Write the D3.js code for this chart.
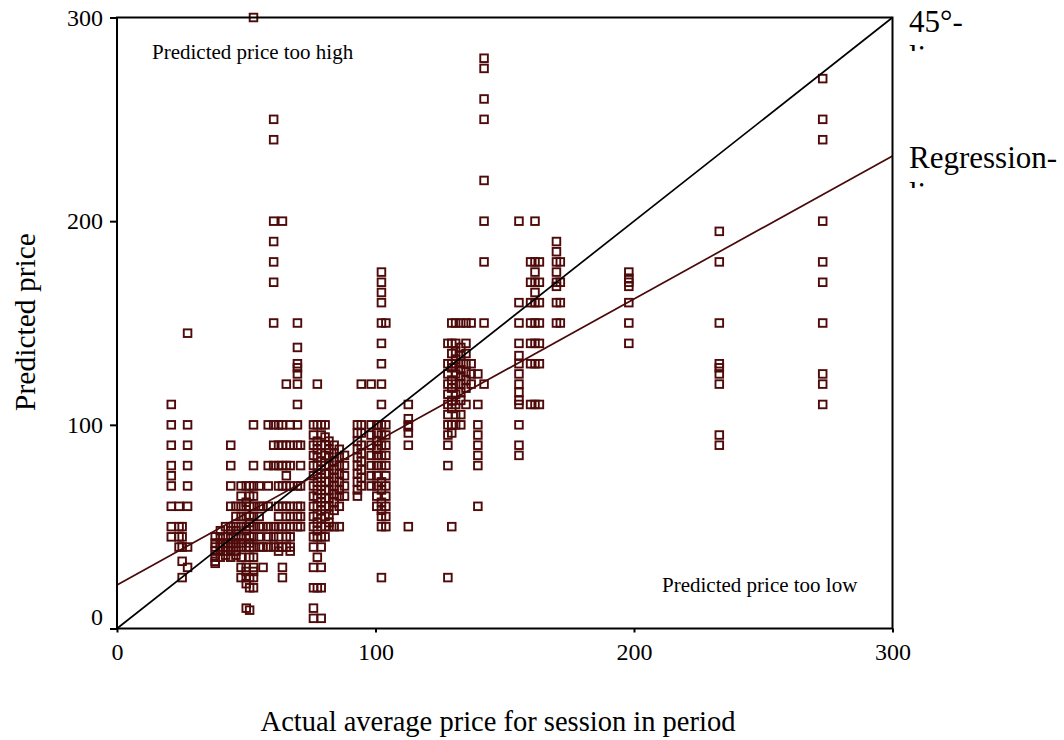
<!DOCTYPE html>
<html>
<head>
<meta charset="utf-8">
<script src="https://d3js.org/d3.v7.min.js"></script>
<style>
  body { margin: 0; background: white; }
  text { font-family: "Liberation Serif", "Times New Roman", serif; fill: black; }
  rect.pt { fill: none; stroke: #4f0a0a; stroke-width: 1.9; }
</style>
</head>
<body>
<svg width="1064" height="740"></svg>
<script>

// actual average price of each session/period (x) and the predictions made at it (y)
var actualPrice = [21, 24, 25.2, 27.3, 38, 40, 42, 44, 46, 48, 50, 51.3, 52.8, 55, 56.5,
  58.5, 60.6, 62.5, 64, 65.5, 67, 69.8, 71, 76, 77.5, 79, 80.5, 82, 84, 86, 88,
  93, 94.5, 98.3, 100.5, 102.3, 104, 112.7, 128, 129.5, 131, 133, 135, 137, 139.6, 142,
  155.5, 160, 161.7, 163.4, 170, 171.5, 198, 233, 273];

var predictedPrice = [
  [110, 100, 90, 80, 75, 70, 60, 50, 45],
  [60, 50, 45, 40],
  [50, 45, 40, 33, 25],
  [145, 100, 90, 80, 70, 60, 40, 30],
  [45, 42, 40, 38, 35, 33, 32],
  [48, 45, 42, 40, 38, 35],
  [50, 45, 42, 40, 38, 36],
  [90, 80, 70, 60, 50, 48, 45, 42, 40, 38, 35],
  [60, 55, 50, 48, 45, 42, 40, 38, 36],
  [70, 65, 60, 55, 50, 45, 42, 40, 35, 30, 25],
  [70, 62, 60, 55, 50, 48, 45, 40, 30, 28, 25, 22, 10],
  [70, 65, 60, 55, 52, 50, 45, 42, 40, 35, 25, 20, 9],
  [300, 100, 80, 70, 65, 60, 55, 50, 45, 40, 35, 30, 28, 25, 20],
  [70, 60, 55, 50, 45, 40],
  [60, 50, 40, 30],
  [100, 80, 70, 60, 50, 45, 40],
  [250, 240, 200, 190, 180, 170, 150, 100, 90, 80, 50, 45, 40],
  [100, 90, 80, 70, 60, 55, 50, 45, 40, 38],
  [200, 100, 90, 80, 70, 60, 50, 40, 30, 25],
  [120, 90, 80, 75, 70, 60, 55, 50, 45, 40],
  [100, 90, 80, 70, 60, 55, 50, 45, 40, 38],
  [150, 138, 130, 128, 125, 120, 110, 100, 90, 70, 60, 55, 50],
  [90, 80, 70, 60, 55, 50],
  [100, 95, 90, 85, 80, 75, 70, 65, 60, 55, 50, 45, 40, 30, 20, 10, 5],
  [120, 100, 92, 88, 84, 80, 76, 72, 68, 64, 60, 56, 52, 48, 45, 35, 20],
  [100, 95, 90, 86, 82, 78, 74, 70, 66, 62, 58, 54, 50, 45, 40, 30, 20, 5],
  [100, 94, 90, 85, 80, 76, 72, 68, 64, 60, 55, 50, 45],
  [92, 88, 84, 80, 76, 72, 68, 64, 60, 56, 52, 50],
  [90, 86, 82, 78, 74, 70, 66, 62, 58, 50],
  [88, 84, 80, 76, 72, 68, 65, 60, 50],
  [85, 80, 75, 70, 65],
  [100, 96, 92, 88, 84, 80, 76, 72, 68, 65],
  [120, 100, 96, 90, 86, 82, 78, 74, 70],
  [120, 100, 95, 90, 85, 80, 75, 70],
  [100, 96, 92, 88, 85, 80, 75, 70, 65, 60],
  [175, 170, 165, 160, 150, 140, 130, 120, 110, 100, 95, 90, 85, 80, 72, 68, 62, 58, 55, 50, 25],
  [150, 100, 95, 90, 85, 80, 75, 70, 65, 60, 55, 50],
  [110, 103, 100, 99, 96, 90, 50],
  [140, 130, 125, 120, 115, 110, 105, 100, 95, 90, 80, 25],
  [150, 140, 135, 130, 128, 122, 118, 112, 108, 100, 96, 50],
  [150, 140, 136, 132, 130, 125, 120, 115, 110, 105, 100],
  [150, 138, 134, 130, 127, 124, 120, 116, 112, 105, 100],
  [150, 140, 135, 130, 126, 122, 118, 110],
  [150, 130, 125, 120],
  [125, 110, 100, 95, 90, 85, 80, 60],
  [280, 275, 260, 250, 220, 200, 180, 150, 120],
  [200, 160, 150, 140, 134, 130, 125, 120, 116, 112, 110, 100, 90, 85],
  [180, 170, 160, 150, 140, 130, 110],
  [200, 180, 175, 170, 165, 160, 150, 140, 130, 110],
  [180, 170, 160, 150, 140, 130, 110],
  [190, 185, 180, 175, 170, 168, 160, 150],
  [180, 170, 160, 150],
  [175, 172, 170, 168, 160, 150, 140],
  [195, 180, 150, 130, 128, 125, 120, 95, 90],
  [270, 250, 240, 200, 180, 170, 150, 125, 120, 110]
];

var xTicks = [0, 100, 200, 300];
var yTicks = [0, 100, 200, 300];
var line45 = [[0, 0], [300, 300]];
var regressionLine = [[0, 21.4], [300, 232]];

var serif = '"Liberation Serif", "Times New Roman", serif';
var svg = d3.select("svg");

var x = d3.scaleLinear().domain([0, 300]).range([117, 892.5]);
var y = d3.scaleLinear().domain([0, 300]).range([628.5, 17.5]);

var points = [];
actualPrice.forEach(function(a, i) {
  predictedPrice[i].forEach(function(p) { points.push({x: a, y: p}); });
});

svg.selectAll("rect.pt")
  .data(points)
  .enter()
  .append("rect")
  .attr("class", "pt")
  .attr("x", function(d) { return x(d.x) - 3.8; })
  .attr("y", function(d) { return y(d.y) - 3.8; })
  .attr("width", 7.6)
  .attr("height", 7.6);

var line = d3.line().x(function(d) { return x(d[0]); }).y(function(d) { return y(d[1]); });

svg.append("path").attr("d", line(line45))
  .attr("fill", "none").attr("stroke", "black").attr("stroke-width", 1.7);
svg.append("path").attr("d", line(regressionLine))
  .attr("fill", "none").attr("stroke", "#4a0a0a").attr("stroke-width", 1.7);

// frame
svg.append("rect")
  .attr("x", x(0)).attr("y", y(300))
  .attr("width", x(300) - x(0)).attr("height", y(0) - y(300))
  .attr("fill", "none").attr("stroke", "black").attr("stroke-width", 2);

var yAxis = svg.append("g")
  .attr("transform", "translate(" + x(0) + ",0)")
  .call(d3.axisLeft(y).tickValues(yTicks).tickSize(7).tickPadding(7).tickFormat(d3.format("d")));
yAxis.select(".domain").remove();
yAxis.attr("font-family", serif).attr("font-size", 24);
yAxis.selectAll("line").attr("stroke-width", 2);
yAxis.selectAll("text")
  .style("font-family", serif).style("font-size", "24px")
  .attr("y", function(d) { return d === 0 ? -12 : 0; });

var xAxis = svg.append("g")
  .attr("transform", "translate(0," + y(0) + ")")
  .call(d3.axisBottom(x).tickValues(xTicks).tickSize(4).tickPadding(10).tickFormat(d3.format("d")));
xAxis.select(".domain").remove();
xAxis.attr("font-family", serif).attr("font-size", 24);
xAxis.selectAll("line").attr("stroke-width", 2);
xAxis.selectAll("text").style("font-family", serif).style("font-size", "24px");

// titles
svg.append("text")
  .attr("x", 498).attr("y", 731)
  .attr("text-anchor", "middle")
  .style("font-size", "28.5px")
  .text("Actual average price for session in period");

svg.append("text")
  .attr("transform", "translate(35,322) rotate(-90)")
  .attr("text-anchor", "middle")
  .style("font-size", "29.5px")
  .text("Predicted price");

svg.append("text").attr("x", 152).attr("y", 59).style("font-size", "21px")
  .text("Predicted price too high");
svg.append("text").attr("x", 662).attr("y", 592).style("font-size", "21px")
  .text("Predicted price too low");

// line labels, wrapped and cut off like in the original
var defs = svg.append("defs");
defs.append("clipPath").attr("id", "clip45")
  .append("rect").attr("x", 900).attr("y", 0).attr("width", 164).attr("height", 51);
defs.append("clipPath").attr("id", "clipReg")
  .append("rect").attr("x", 900).attr("y", 130).attr("width", 164).attr("height", 58);

var lab45 = svg.append("text").attr("clip-path", "url(#clip45)").style("font-size", "31px");
lab45.append("tspan").attr("x", 909).attr("y", 32).text("45°-");
lab45.append("tspan").attr("x", 909).attr("y", 67).text("line");

var labReg = svg.append("text").attr("clip-path", "url(#clipReg)").style("font-size", "31px");
labReg.append("tspan").attr("x", 909).attr("y", 168).text("Regression-");
labReg.append("tspan").attr("x", 909).attr("y", 204).text("line");

</script>
</body>
</html>
